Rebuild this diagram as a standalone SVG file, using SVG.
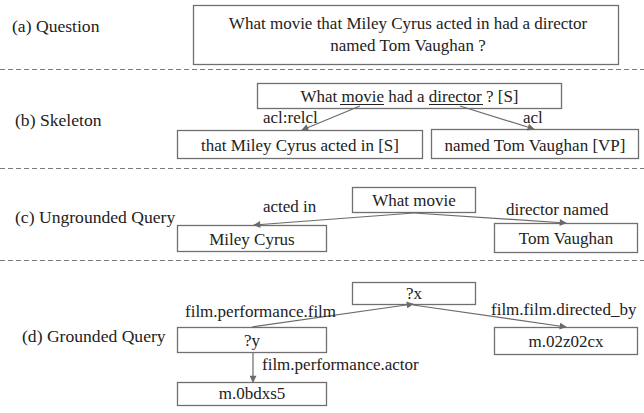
<svg xmlns="http://www.w3.org/2000/svg" width="644" height="413" viewBox="0 0 644 413">
  <defs>
    <marker id="arrow" viewBox="0 0 10 10" refX="9" refY="5" markerWidth="8" markerHeight="7" markerUnits="userSpaceOnUse" orient="auto">
      <path d="M0,0 L10,5 L0,10 z" fill="#6a6a6a"/>
    </marker>
    <style>
      text { font-size: 17px; fill: #222; }
      .lbl { font-size: 17.6px; }
      .c { text-anchor: middle; }
      .box { fill: #fff; stroke: #707070; stroke-width: 1.3; }
      .edge { fill: none; stroke: #6a6a6a; stroke-width: 1.2; marker-end: url(#arrow); }
      .sep { stroke: #7a7a7a; stroke-width: 1; stroke-dasharray: 5 3; }
      .ul { stroke: #222; stroke-width: 1; }
    </style>
  </defs>

  <g font-family="'Liberation Serif', 'DejaVu Serif', serif">
  <!-- section separators -->
  <g id="separators">
    <line class="sep" x1="0" y1="69.5" x2="644" y2="69.5"/>
    <line class="sep" x1="0" y1="168.5" x2="644" y2="168.5"/>
    <line class="sep" x1="0" y1="260.5" x2="644" y2="260.5"/>
  </g>

  <!-- row labels -->
  <g id="labels">
    <text class="lbl" x="12" y="32">(a) Question</text>
    <text class="lbl" x="15" y="126">(b) Skeleton</text>
    <text class="lbl" x="15" y="223">(c) Ungrounded Query</text>
    <text class="lbl" x="22" y="342">(d) Grounded Query</text>
  </g>

  <!-- (a) question -->
  <g id="question">
    <rect class="box" x="193.5" y="5.5" width="425" height="59"/>
    <text class="c" x="408" y="29">What movie that Miley Cyrus acted in had a director</text>
    <text class="c" x="408" y="51">named Tom Vaughan ?</text>
  </g>

  <!-- (b) skeleton -->
  <g id="skel-root">
    <rect class="box" x="257.5" y="83.5" width="304" height="25"/>
    <text class="c" x="409.5" y="102">What movie had a director ? [S]</text>
    <line class="ul" x1="340" y1="104.5" x2="384" y2="104.5"/>
    <line class="ul" x1="429" y1="104.5" x2="483" y2="104.5"/>
  </g>
  <g id="skel-left">
    <rect class="box" x="177.5" y="130.5" width="245" height="28"/>
    <text class="c" x="300" y="151">that Miley Cyrus acted in [S]</text>
  </g>
  <g id="skel-right">
    <rect class="box" x="431.5" y="129.5" width="207" height="29"/>
    <text class="c" x="535" y="151">named Tom Vaughan [VP]</text>
  </g>

  <!-- (c) ungrounded query -->
  <g id="ug-root">
    <rect class="box" x="352.5" y="187.5" width="123" height="25"/>
    <text class="c" x="414" y="206">What movie</text>
  </g>
  <g id="ug-miley">
    <rect class="box" x="177.5" y="225.5" width="149" height="26"/>
    <text class="c" x="252" y="245">Miley Cyrus</text>
  </g>
  <g id="ug-tom">
    <rect class="box" x="494.5" y="223.5" width="143" height="29"/>
    <text class="c" x="566" y="244">Tom Vaughan</text>
  </g>

  <!-- (d) grounded query -->
  <g id="g-x">
    <rect class="box" x="352.5" y="282.5" width="123" height="22"/>
    <text class="c" x="414" y="299">?x</text>
  </g>
  <g id="g-y">
    <rect class="box" x="177.5" y="327.5" width="149" height="25"/>
    <text class="c" x="252" y="346">?y</text>
  </g>
  <g id="g-director">
    <rect class="box" x="494.5" y="327.5" width="143" height="27"/>
    <text class="c" x="566" y="347">m.02z02cx</text>
  </g>
  <g id="g-actor">
    <rect class="box" x="177.5" y="382.5" width="149" height="23"/>
    <text class="c" x="252" y="399">m.0bdxs5</text>
  </g>

  <!-- connectors -->
  <g id="connectors">
    <line class="edge" x1="360" y1="106" x2="302" y2="130"/>
    <line class="edge" x1="460" y1="106" x2="534" y2="129"/>
    <line class="edge" x1="414" y1="213" x2="254" y2="225"/>
    <line class="edge" x1="414" y1="213" x2="566" y2="223"/>
    <line class="edge" x1="252" y1="327" x2="413" y2="304"/>
    <line class="edge" x1="413" y1="305" x2="566" y2="327"/>
    <line class="edge" x1="253" y1="353" x2="253" y2="382"/>
  </g>

  <!-- connector labels -->
  <g id="edge-labels">
    <text x="263" y="123">acl:relcl</text>
    <text x="523" y="123">acl</text>
    <text x="263" y="212">acted in</text>
    <text x="506" y="215">director named</text>
    <text x="185" y="317">film.performance.film</text>
    <text x="491" y="315">film.film.directed_by</text>
    <text x="262" y="370">film.performance.actor</text>
  </g>
  </g>
</svg>
